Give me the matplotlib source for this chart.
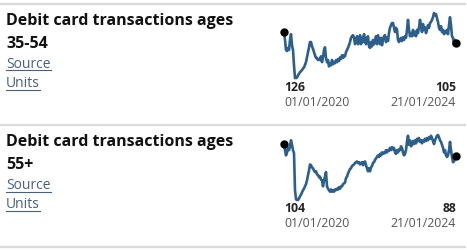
import numpy as np
import pandas as pd
import matplotlib
matplotlib.use("Agg")
import matplotlib.pyplot as plt
from matplotlib.lines import Line2D

plt.rcParams['font.family'] = ['Open Sans', 'DejaVu Sans']

titles = ["Debit card transactions ages\n35-54", "Debit card transactions ages\n55+"]
start_date = "2020-01-01"
end_date = "2024-01-21"
date_labels = ["01/01/2020", "21/01/2024"]

ages_35_54 = [
    126, 111, 92, 90, 96, 92, 111, 122, 101, 92, 63, 39, 39, 40, 44, 47, 50, 52, 54, 57,
    59, 64, 69, 78, 86, 97, 107, 107, 99, 94, 88, 82, 77, 77, 73, 75, 73, 80, 69, 78,
    92, 97, 77, 69, 73, 61, 67, 63, 73, 65, 69, 67, 73, 69, 75, 71, 78, 75, 82, 77,
    82, 80, 88, 92, 96, 101, 107, 115, 118, 120, 115, 103, 107, 118, 103, 105, 120, 103, 115, 107,
    122, 111, 103, 115, 118, 99, 96, 107, 99, 111, 103, 109, 118, 103, 120, 111, 103, 115, 101, 111,
    118, 120, 107, 115, 109, 124, 134, 139, 143, 143, 134, 126, 134, 130, 111, 107, 111, 115, 109, 116,
    111, 118, 115, 130, 149, 130, 118, 124, 118, 130, 120, 126, 118, 130, 124, 134, 149, 137, 126, 141,
    130, 135, 124, 130, 139, 134, 143, 145, 149, 154, 162, 158, 160, 152, 145, 134, 130, 137, 126, 130,
    122, 128, 124, 130, 122, 139, 154, 139, 118, 115, 101, 111, 105,
]

ages_55_plus = [
    104, 96, 89, 93, 99, 96, 101, 109, 103, 96, 92, 43, 31, 30, 30, 32, 35, 37, 40, 43,
    45, 48, 51, 56, 63, 69, 77, 76, 73, 72, 69, 67, 68, 64, 63, 60, 61, 57, 56, 48,
    56, 61, 67, 48, 45, 43, 41, 44, 41, 43, 41, 44, 43, 45, 44, 47, 45, 48, 48, 51,
    52, 53, 59, 61, 65, 68, 71, 72, 75, 76, 77, 79, 80, 81, 79, 80, 77, 79, 80, 76,
    80, 81, 76, 72, 68, 72, 68, 73, 75, 79, 80, 83, 85, 87, 89, 87, 91, 89, 93, 91,
    93, 92, 96, 93, 96, 95, 99, 96, 100, 97, 99, 93, 91, 96, 93, 97, 96, 101, 99, 93,
    89, 91, 96, 107, 115, 103, 109, 101, 103, 108, 104, 109, 105, 111, 108, 112, 107, 109, 105, 109,
    107, 111, 108, 112, 109, 113, 111, 115, 112, 108, 104, 109, 112, 115, 116, 113, 109, 107, 103, 99,
    93, 96, 89, 87, 89, 96, 107, 96, 87, 80, 81, 85, 88,
]

series = [ages_35_54, ages_55_plus]

W, H = 467, 252
fig = plt.figure(figsize=(W / 100, H / 100), dpi=100)
fig.patch.set_facecolor("white")


def fx(x):
    return x / W


def fy(y):
    return 1 - y / H


line_color = "#2c5f8c"
link_color = "#4a6078"
sep_color = "#dadada"

# separators between rows
for y in (4, 125, 247):
    fig.add_artist(Line2D([fx(0), fx(465)], [fy(y), fy(y)], color=sep_color, lw=1.6))

row_offset = 121
links = []
for i, (title, vals) in enumerate(zip(titles, series)):
    off = i * row_offset
    line1, line2 = title.split("\n")
    fig.text(fx(6), fy(25 + off), line1, fontsize=11.5, fontweight="bold",
             color="#111111", va="baseline", ha="left")
    fig.text(fx(6), fy(48 + off), line2, fontsize=11.5, fontweight="bold",
             color="#111111", va="baseline", ha="left")
    links.append(fig.text(fx(6), fy(68 + off), "Source", fontsize=10, color=link_color,
                          va="baseline", ha="left"))
    links.append(fig.text(fx(6), fy(87 + off), "Units", fontsize=10, color=link_color,
                          va="baseline", ha="left"))

    # sparkline, axes box spans the data range
    dates = pd.date_range(start_date, end_date, periods=len(vals))
    v = np.array(vals)
    if i == 0:
        top, bottom = 13, 78
    else:
        top, bottom = 135, 200
    ax = fig.add_axes([fx(284), fy(bottom), fx(456) - fx(284), (bottom - top) / H])
    ax.plot(dates, v, color=line_color, lw=1.9, clip_on=False, solid_joinstyle="round")
    ax.plot([dates[0], dates[-1]], [v[0], v[-1]], "o", color="black", ms=5, clip_on=False)
    ax.set_xlim(dates[0], dates[-1])
    ax.set_ylim(v.min(), v.max())
    ax.axis("off")

    fig.text(fx(284), fy(91 + off), str(v[0]), fontsize=8.8, fontweight="bold",
             color="#222222", va="baseline", ha="left")
    fig.text(fx(456), fy(91 + off), str(v[-1]), fontsize=8.8, fontweight="bold",
             color="#222222", va="baseline", ha="right")
    fig.text(fx(284), fy(106 + off), date_labels[0], fontsize=8.8,
             color="#555555", va="baseline", ha="left")
    fig.text(fx(456), fy(106 + off), date_labels[1], fontsize=8.8,
             color="#555555", va="baseline", ha="right")

# underline the links
fig.canvas.draw()
renderer = fig.canvas.get_renderer()
for t in links:
    bb = t.get_window_extent(renderer)
    y_under = bb.y0 + 1.5
    fig.add_artist(Line2D([bb.x0 / W, bb.x1 / W], [y_under / H, y_under / H],
                          color=link_color, lw=0.8))

fig.savefig("out.png", dpi=100, facecolor="white")
